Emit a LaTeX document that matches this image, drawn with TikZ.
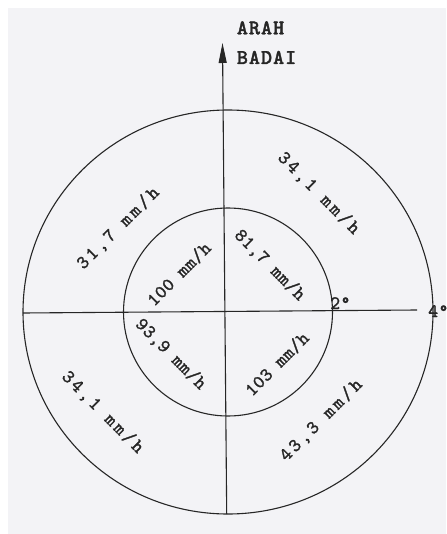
\documentclass[tikz,border=0pt]{standalone}
\usepackage{fontspec}
\usetikzlibrary{arrows.meta}
\newfontfamily\outerfont{lmmono10-regular}[Extension=.otf, LetterSpace=14, FakeBold=1.5]
\newfontfamily\innerfont{lmmono10-regular}[Extension=.otf, LetterSpace=2, FakeBold=1.5]
\newfontfamily\headfont{lmmonolt10-bold}[Extension=.otf, LetterSpace=5, FakeBold=1.5]
\definecolor{paper}{RGB}{243,243,246}
\definecolor{ink}{RGB}{38,38,38}
\tikzset{
  ring/.style={draw=ink, line width=1.1pt},
  axisline/.style={draw=ink, line width=1.1pt},
  outerlbl/.style={font={\fontsize{19}{21}\outerfont}, text=ink, inner sep=0pt},
  innerlbl/.style={font={\fontsize{19}{21}\innerfont}, text=ink, inner sep=0pt},
  headlbl/.style={font={\fontsize{21}{23}\headfont}, text=ink, inner sep=0pt, anchor=base west},
}
\begin{document}
\begin{tikzpicture}[x=1pt,y=-1pt]
\useasboundingbox (0,0) rectangle (446,534);
\fill[white] (0,0) rectangle (446,534);
\fill[paper] (8,8) rectangle (446,534);

\coordinate (c) at (228,312);
\coordinate (ntop) at (222.5,43);
\coordinate (nbot) at (226.7,514);
\coordinate (wl) at (23,313);
\coordinate (er) at (417,310);

\draw[ring] (c) ellipse [x radius=205, y radius=202];
\draw[ring] (c) ellipse [x radius=104.5, y radius=104];

\draw[axisline] (wl) -- (er);
\draw[axisline, -{Triangle[length=20pt,width=8pt]}] (nbot) -- (ntop);

\node[headlbl] (arah) at (236.7,34.3) {ARAH};
\node[headlbl] (badai) at (236.7,64) {BADAI};

\node[outerlbl, rotate=-45] (ur) at (319,193) {34,1 mm/h};
\node[outerlbl, rotate=45] (ul) at (118,228) {31,7 mm/h};
\node[outerlbl, rotate=-45] (ll) at (103,412) {34,1 mm/h};
\node[outerlbl, rotate=45] (lr) at (321,420) {43,3 mm/h};

\node[innerlbl, rotate=45] (iul) at (179,274) {100 mm/h};
\node[innerlbl, rotate=-45] (iur) at (270,265) {81,7 mm/h};
\node[innerlbl, rotate=-45] (ill) at (171,354) {93,9 mm/h};
\node[innerlbl, rotate=45] (ilr) at (277,364) {103 mm/h};

\node[innerlbl, anchor=base west] (deg2) at (330,309) {2°};
\node[innerlbl, anchor=base west] (deg4) at (428,317) {4°};
\end{tikzpicture}
\end{document}
